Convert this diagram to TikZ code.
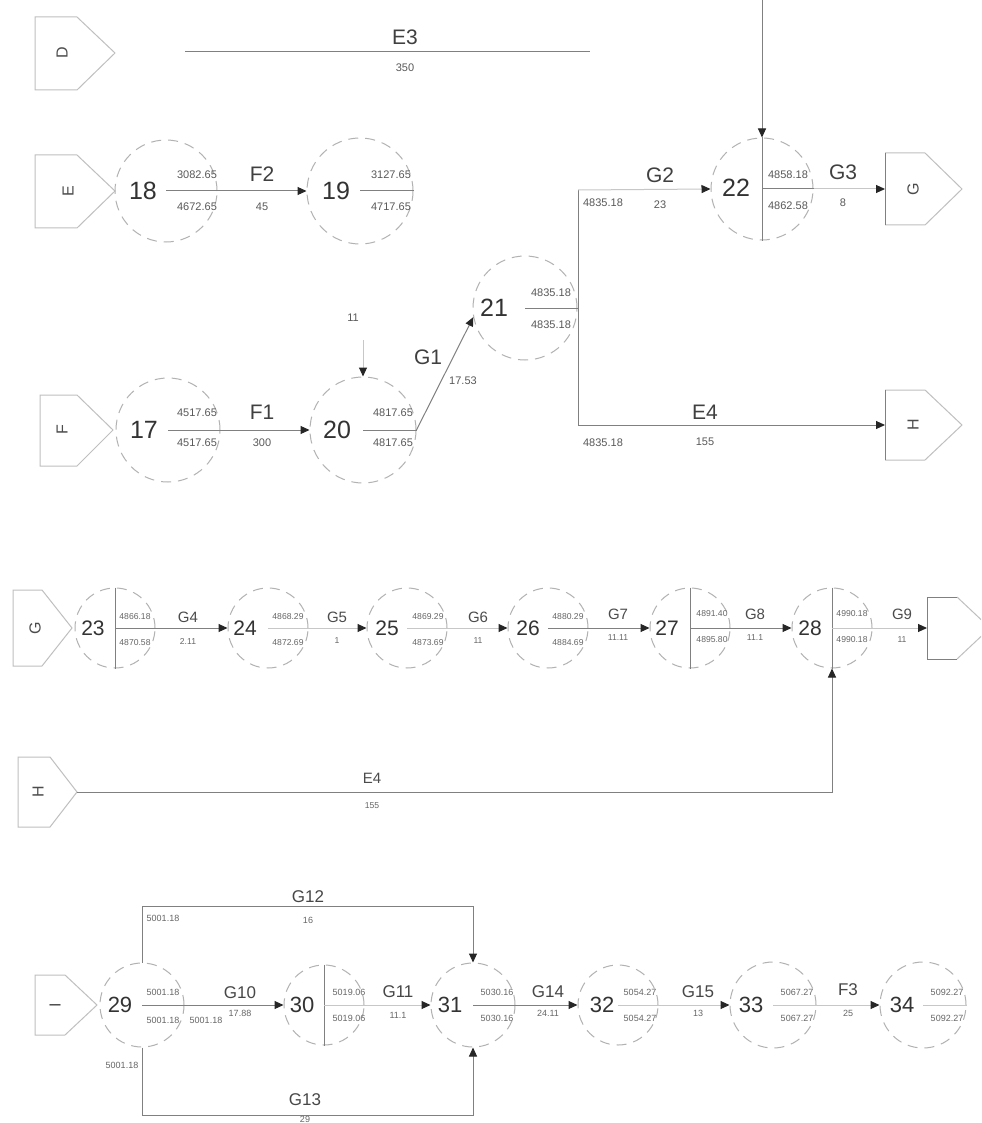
\documentclass[tikz,border=0pt]{standalone}
\usepackage{fontspec}
\setmainfont{Liberation Sans}
\usetikzlibrary{arrows.meta,calc}
\tikzset{
  ev/.style={circle,draw=black!30,dash pattern=on 5pt off 3.5pt,line width=0.5pt,inner sep=0pt},
  ln/.style={draw=black!50,line width=0.5pt},
  fln/.style={draw=black!22,line width=0.5pt},
  ar/.style={ln,-{Triangle[length=4.5pt,width=4pt,color=black!85]}},
  far/.style={fln,-{Triangle[length=4.5pt,width=4pt,color=black!85]}},
  pent/.style={draw=black!25,line width=0.5pt},
  pentlab/.style={font=\fontsize{8}{9}\selectfont,text=black!70,rotate=90,inner sep=0pt},
  nA/.style={font=\fontsize{12.5}{14}\selectfont,text=black!80,inner sep=0pt},
  labA/.style={font=\fontsize{10.5}{12}\selectfont,text=black!75,inner sep=0pt},
  valA/.style={font=\fontsize{5.5}{6}\selectfont,text=black!65,inner sep=0pt},
  nB/.style={font=\fontsize{10.5}{12}\selectfont,text=black!80,inner sep=0pt},
  labB/.style={font=\fontsize{7.5}{9}\selectfont,text=black!70,inner sep=0pt},
  valB/.style={font=\fontsize{4.3}{5}\selectfont,text=black!60,inner sep=0pt},
  nC/.style={font=\fontsize{11}{13}\selectfont,text=black!80,inner sep=0pt},
  labC/.style={font=\fontsize{8.5}{10}\selectfont,text=black!72,inner sep=0pt},
  valC/.style={font=\fontsize{4.5}{5}\selectfont,text=black!60,inner sep=0pt}
}
\begin{document}
\begin{tikzpicture}[x=0.5pt,y=-0.5pt]
\useasboundingbox (0,0) rectangle (981,1123);
\clip (0,0) rectangle (981,1123);
\fill[white] (0,0) rectangle (981,1123);

% ---------- off-page connectors ----------
\draw[pent] (35,17) -- (77,17) -- (115,53) -- (77,90) -- (35,90) -- cycle;
\node[pentlab] (pD) at (62,53) {D};
\draw[pent] (35,155) -- (77,155) -- (115,191) -- (77,228) -- (35,228) -- cycle;
\node[pentlab] (pE) at (68,191) {E};
\draw[pent] (40,395) -- (77,395) -- (113,430) -- (77,466) -- (40,466) -- cycle;
\node[pentlab] (pF) at (62,430) {F};
\draw[pent] (885,153) -- (925,153) -- (962,189) -- (925,225) -- (885,225);
\draw[ln] (885,153) -- (885,225);
\node[pentlab] (pG) at (913,189) {G};
\draw[pent] (885,390) -- (925,390) -- (962,425) -- (925,460) -- (885,460);
\draw[ln] (885,390) -- (885,460);
\node[pentlab] (pH) at (913,425) {H};
\coordinate (pGin) at (885,189);
\coordinate (pHin) at (885,425);

\draw[pent] (13,590) -- (42,590) -- (72,628) -- (42,666) -- (13,666) -- cycle;
\node[pentlab] (pG2) at (35,628) {G};
\draw[pent] (18,757) -- (50,757) -- (77,792) -- (50,827) -- (18,827) -- cycle;
\node[pentlab] (pH2) at (38,792) {H};
\coordinate (pH2tip) at (77,792);
\draw[pent] (957,597) -- (990,628) -- (957,659);
\draw[ln] (957,597) -- (927,597) -- (927,659) -- (957,659);
\coordinate (pIin) at (927,628);

\draw[pent] (35,975) -- (65,975) -- (97,1005) -- (65,1035) -- (35,1035) -- cycle;
\node[pentlab] (pI) at (55,1005) {I};

% ---------- row 1 ----------
\coordinate (e3a) at (185,52);
\coordinate (e3b) at (590,52);
\draw[ln] (e3a) -- (e3b);
\node[labA] (lE3) at (405,37) {E3};
\node[valA] (dE3) at (405,68) {350};

\node[ev,minimum size=51pt] (n18) at (166,191) {};
\node[ev,minimum size=53pt] (n19) at (360,191) {};
\node[ev,minimum size=52pt] (n17) at (168,430) {};
\node[ev,minimum size=53pt] (n20) at (363,430) {};
\node[ev,minimum size=52pt] (n21) at (525,308) {};
\node[ev,minimum size=51pt] (n22) at (762,189) {};

\node[nA] (t18) at (143,191) {18};
\node[nA] (t19) at (336,191) {19};
\node[nA] (t17) at (144,430) {17};
\node[nA] (t20) at (337,430) {20};
\node[nA] (t21) at (494,308) {21};
\node[nA] (t22) at (736,188) {22};

\node[valA] at (197,175) {3082.65};
\node[valA] at (197,207) {4672.65};
\node[valA] at (391,175) {3127.65};
\node[valA] at (391,207) {4717.65};
\node[valA] at (197,413) {4517.65};
\node[valA] at (197,443) {4517.65};
\node[valA] at (393,413) {4817.65};
\node[valA] at (393,443) {4817.65};
\node[valA] at (551,293) {4835.18};
\node[valA] at (551,325) {4835.18};
\node[valA] at (788,175) {4858.18};
\node[valA] at (788,206) {4862.58};

\draw[ar] (n18.center) -- (n19.west);
\node[labA] at (262,174) {F2};
\node[valA] at (262,207) {45};
\draw[ln] (n19.center) -- (n19.east);

\draw[ar] (n17.center) -- (n20.west);
\node[labA] at (262,412) {F1};
\node[valA] at (262,443) {300};
\draw[ln] (n20.center) -- (n20.east);

\coordinate (a20) at (363,340);
\draw[far] (a20) -- (n20.north);
\node[valA] at (353,318) {11};

\draw[ar] (n20.east) -- (n21.190);
\node[labA] at (428,357) {G1};
\node[valA] at (463,381) {17.53};

\coordinate (b21t) at (578,190);
\coordinate (b21b) at (578,425);
\draw[ln] (n21.center) -- (n21.center -| b21t);
\draw[ln] (b21t) -- (b21b);
\draw[far] (b21t) -- (n22.west);
\node[labA] at (660,175) {G2};
\node[valA] at (660,205) {23};
\node[valA] at (603,203) {4835.18};
\draw[ar] (b21b) -- (pHin);
\node[labA] at (705,412) {E4};
\node[valA] at (705,442) {155};
\node[valA] at (603,443) {4835.18};

\coordinate (v22) at (762,0);
\draw[ar] (v22) -- (n22.north);
\draw[ln] (n22.north) -- (n22.south);
\draw[ln] (n22.center) -- (n22.east);
\draw[far] (n22.east) -- (pGin);
\node[labA] at (843,172) {G3};
\node[valA] at (843,203) {8};

% ---------- row 2 ----------
\node[ev,minimum size=40pt] (n23) at (115,628) {};
\node[ev,minimum size=40pt] (n24) at (268,628) {};
\node[ev,minimum size=40pt] (n25) at (407,628) {};
\node[ev,minimum size=40pt] (n26) at (548,628) {};
\node[ev,minimum size=40pt] (n27) at (690,628) {};
\node[ev,minimum size=40pt] (n28) at (832,628) {};

\node[nB] at (93,628) {23};
\node[nB] at (245,628) {24};
\node[nB] at (387,628) {25};
\node[nB] at (528,628) {26};
\node[nB] at (667,628) {27};
\node[nB] at (810,628) {28};

\draw[ln] (n23.north) -- (n23.south);
\draw[ln] (n27.north) -- (n27.south);
\draw[ln] (n28.north) -- (n28.south);

\draw[ar] (n23.center) -- (n24.west);
\draw[far] (n24.center) -- (n25.west);
\draw[far] (n25.center) -- (n26.west);
\draw[ar] (n26.center) -- (n27.west);
\draw[ar] (n27.center) -- (n28.west);
\draw[far] (n28.center) -- (pIin);

\node[valB] at (135,617) {4866.18};
\node[valB] at (135,643) {4870.58};
\node[valB] at (288,617) {4868.29};
\node[valB] at (288,643) {4872.69};
\node[valB] at (428,617) {4869.29};
\node[valB] at (428,643) {4873.69};
\node[valB] at (568,617) {4880.29};
\node[valB] at (568,643) {4884.69};
\node[valB] at (712,614) {4891.40};
\node[valB] at (712,640) {4895.80};
\node[valB] at (852,614) {4990.18};
\node[valB] at (852,640) {4990.18};

\node[labB] at (188,617) {G4};
\node[valB] at (188,641) {2.11};
\node[labB] at (337,617) {G5};
\node[valB] at (337,641) {1};
\node[labB] at (478,617) {G6};
\node[valB] at (478,641) {11};
\node[labB] at (618,614) {G7};
\node[valB] at (618,638) {11.11};
\node[labB] at (755,614) {G8};
\node[valB] at (755,638) {11.1};
\node[labB] at (902,614) {G9};
\node[valB] at (902,640) {11};

\coordinate (e4c) at (832,792);
\draw[ar] (pH2tip) -- (e4c) -- (n28.south);
\node[labB] at (372,778) {E4};
\node[valB] at (372,806) {155};

% ---------- row 3 ----------
\node[ev,minimum size=42pt] (n29) at (142,1005) {};
\node[ev,minimum size=40pt] (n30) at (324,1005) {};
\node[ev,minimum size=42pt] (n31) at (473,1005) {};
\node[ev,minimum size=40pt] (n32) at (618,1005) {};
\node[ev,minimum size=43pt] (n33) at (773,1005) {};
\node[ev,minimum size=43pt] (n34) at (923,1005) {};

\node[nC] at (120,1005) {29};
\node[nC] at (302,1005) {30};
\node[nC] at (450,1005) {31};
\node[nC] at (602,1005) {32};
\node[nC] at (751,1005) {33};
\node[nC] at (902,1005) {34};

\draw[ln] (n30.north) -- (n30.south);

\draw[ar] (n29.center) -- (n30.west);
\draw[far] (n30.center) -- (n31.west);
\draw[ar] (n31.center) -- (n32.west);
\draw[far] (n32.center) -- (n33.west);
\draw[far] (n33.center) -- (n34.west);
\draw[fln] (n34.center) -- (n34.east);

\draw[ar] (n29.north) -- ++(0,-56) -| (n31.north);
\draw[ar] (n29.south) -- ++(0,68) -| (n31.south);

\node[valC] at (163,992) {5001.18};
\node[valC] at (163,1020) {5001.18};
\node[valC] at (206,1020) {5001.18};
\node[valC] at (163,918) {5001.18};
\node[valC] at (122,1065) {5001.18};
\node[valC] at (349,992) {5019.06};
\node[valC] at (349,1018) {5019.06};
\node[valC] at (497,992) {5030.16};
\node[valC] at (497,1018) {5030.16};
\node[valC] at (640,992) {5054.27};
\node[valC] at (640,1018) {5054.27};
\node[valC] at (797,992) {5067.27};
\node[valC] at (797,1018) {5067.27};
\node[valC] at (947,992) {5092.27};
\node[valC] at (947,1018) {5092.27};

\node[labC] at (240,993) {G10};
\node[valC] at (240,1013) {17.88};
\node[labC] at (398,992) {G11};
\node[valC] at (398,1015) {11.1};
\node[labC] at (308,897) {G12};
\node[valC] at (308,920) {16};
\node[labC] at (305,1100) {G13};
\node[valC] at (305,1119) {29};
\node[labC] at (548,992) {G14};
\node[valC] at (548,1013) {24.11};
\node[labC] at (698,992) {G15};
\node[valC] at (698,1013) {13};
\node[labC] at (848,990) {F3};
\node[valC] at (848,1013) {25};
\end{tikzpicture}
\end{document}
